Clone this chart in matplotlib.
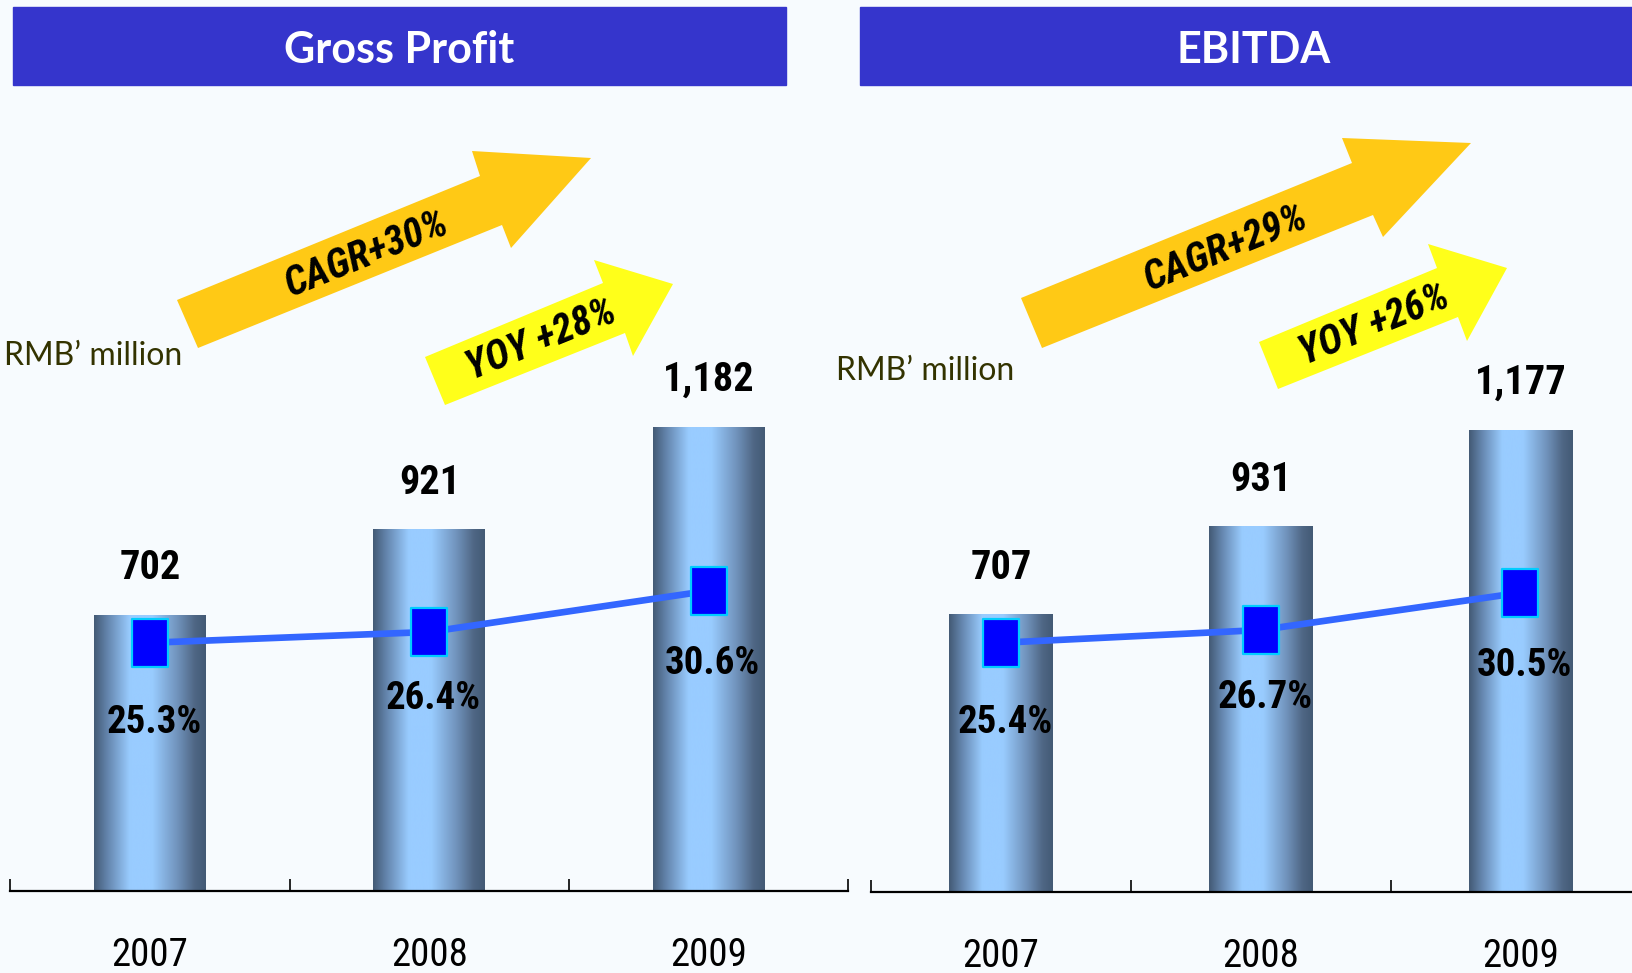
"""
Gross Profit / EBITDA chart with margin line
"""
import numpy as np
import matplotlib.pyplot as plt
from matplotlib import font_manager
from matplotlib.colors import LinearSegmentedColormap
from matplotlib.patches import Polygon, Rectangle
from matplotlib.path import Path

# data
years = ['2007', '2008', '2009']
gross_profit = [702, 921, 1182]
gross_margin = [25.3, 26.4, 30.6]
ebitda = [707, 931, 1177]
ebitda_margin = [25.4, 26.7, 30.5]
gp_growth = ['CAGR+30%', 'YOY +28%']
eb_growth = ['CAGR+29%', 'YOY +26%']
unit_label = 'RMB\u2019 million'

# canvas in pixels
W, H = 1632, 973
BG = '#F7FBFE'
TITLE_BG = '#3535CC'
LINE_COLOR = '#3366FF'
YMAX = 2000      # value scale of bar axes
RATIO = 25       # value units per margin percent
PX = 1 / 1.389   # pixel -> point at dpi 100

names = {f.name for f in font_manager.fontManager.ttflist}
NARROW = [n for n in ['Roboto Condensed', 'Archivo Narrow', 'Liberation Sans'] if n in names] + ['DejaVu Sans']
TITLE_FONT = ['Lato', 'DejaVu Sans'] if 'Lato' in names else ['DejaVu Sans']


def fx(x):
    return x / W


def fy(y):
    return 1 - y / H


bar_cmap = LinearSegmentedColormap.from_list('cyl', [
    (0.0, '#435a75'), (0.12, '#6485ad'), (0.32, '#99ccff'),
    (0.52, '#99ccff'), (0.75, '#7092bb'), (0.9, '#4f6785'), (1.0, '#435a75')])
grad = np.linspace(0, 1, 256).reshape(1, -1)

# rectangle marker taller than wide
rect_marker = Path([(-0.39, -0.5), (0.39, -0.5), (0.39, 0.5), (-0.39, 0.5), (-0.39, -0.5)],
                   [Path.MOVETO, Path.LINETO, Path.LINETO, Path.LINETO, Path.CLOSEPOLY])

fig = plt.figure(figsize=(W / 100, H / 100), dpi=100, facecolor=BG)


def panel(x0, cat_w, base_y, values, margins, drops):
    x1 = x0 + 3 * cat_w
    h_px = YMAX * 0.3925
    ax = fig.add_axes([fx(x0), fy(base_y), (x1 - x0) / W, h_px / H])
    ax.patch.set_visible(False)
    pos = np.arange(len(years))
    bars = ax.bar(pos, values, width=0.4, color='none', edgecolor='none')
    for r in bars:
        ax.imshow(grad, cmap=bar_cmap, aspect='auto', interpolation='bicubic',
                  extent=(r.get_x(), r.get_x() + r.get_width(), 0, r.get_height()), zorder=2)
    for i, v in enumerate(values):
        ax.annotate(f'{v:,}', (i, v), xytext=(0, 47 * PX), textcoords='offset points',
                    ha='center', va='center', fontsize=29, fontweight='bold',
                    family=NARROW, color='black')
    ax.set_xlim(-0.5, 2.5)
    ax.set_ylim(0, YMAX)
    for s in ['top', 'left', 'right']:
        ax.spines[s].set_visible(False)
    ax.spines['bottom'].set_linewidth(1.6)
    ax.set_yticks([])
    ax.set_xticks([-0.5, 0.5, 1.5, 2.5])
    ax.tick_params(axis='x', which='major', direction='in', length=9, width=1.2, labelbottom=False)
    ax.set_xticks(pos, minor=True)
    ax.set_xticklabels(years, minor=True, fontsize=28, family=NARROW)
    ax.tick_params(axis='x', which='minor', length=0, pad=33)

    ax2 = ax.twinx()
    ax2.set_ylim(0, YMAX / RATIO)
    ax2.axis('off')
    ax2.plot(pos, margins, color=LINE_COLOR, lw=4.8, marker=rect_marker, markersize=34,
             markerfacecolor='#0000FF', markeredgecolor='#00CCFF', markeredgewidth=1.6,
             zorder=3, clip_on=False)
    for i, m in enumerate(margins):
        ax2.annotate(f'{m:.1f}%', (i, m), xytext=(3, -drops[i] * PX), textcoords='offset points',
                     ha='center', va='center', fontsize=28, fontweight='bold',
                     family=NARROW, color='black')
    return ax


def arrow(pts, color):
    fig.add_artist(Polygon([(fx(x), fy(y)) for x, y in pts], closed=True,
                           transform=fig.transFigure, facecolor=color, edgecolor='none', zorder=1))


def arrow_text(s, x, y):
    fig.text(fx(x), fy(y), s, rotation=22, rotation_mode='anchor', ha='center', va='center',
             fontsize=29, fontweight='bold', fontstyle='italic', family=NARROW, color='black', zorder=3)


drops = [80, 67, 73]

# left panel: Gross Profit
fig.add_artist(Rectangle((fx(12.5), fy(85)), (786 - 12.5) / W, 78 / H,
                         transform=fig.transFigure, color=TITLE_BG, zorder=1))
fig.text(fx(399), fy(63), 'Gross Profit', ha='center', va='baseline', color='white',
         fontsize=31, fontweight='bold', family=TITLE_FONT)
panel(10.4, 279.3, 891, gross_profit, gross_margin, drops)
fig.text(fx(4), fy(356), unit_label, ha='left', va='center', fontsize=23,
         family=TITLE_FONT, color='#333300')
arrow([(198, 348), (177, 300), (480, 176), (472, 151), (591, 158), (511, 248), (502, 225)], '#FFC915')
arrow([(425, 357), (445, 405), (625, 333), (633, 356), (673, 284), (594, 260), (603, 283)], '#FFFF1A')
arrow_text(gp_growth[0], 367, 254)
arrow_text(gp_growth[1], 541, 340)

# right panel: EBITDA
fig.add_artist(Rectangle((fx(860), fy(85)), (W - 860) / W, 78 / H,
                         transform=fig.transFigure, color=TITLE_BG, zorder=1))
fig.text(fx(1254), fy(63), 'EBITDA', ha='center', va='baseline', color='white',
         fontsize=31, fontweight='bold', family=TITLE_FONT)
panel(871.2, 259.7, 892, ebitda, ebitda_margin, drops)
fig.text(fx(836), fy(371), unit_label, ha='left', va='center', fontsize=23,
         family=TITLE_FONT, color='#333300')
arrow([(1042, 348), (1021, 298), (1352, 163), (1342, 138), (1471, 143), (1383, 237), (1373, 215)], '#FFC915')
arrow([(1259, 342), (1278, 389), (1458, 317), (1467, 341), (1507, 268), (1428, 244), (1437, 268)], '#FFFF1A')
arrow_text(eb_growth[0], 1226, 248)
arrow_text(eb_growth[1], 1374, 325)

fig.savefig('out.png', dpi=100, facecolor=BG)
